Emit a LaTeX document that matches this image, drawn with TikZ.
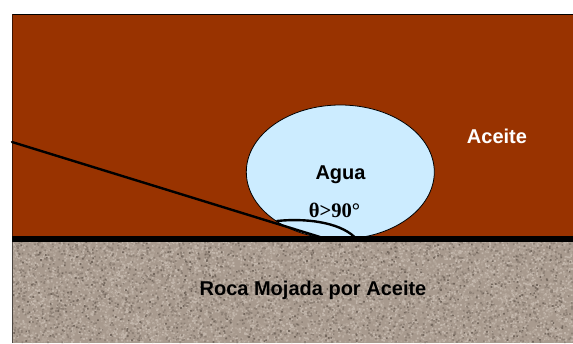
\documentclass[tikz,border=0pt]{standalone}
\usetikzlibrary{shapes.geometric}
\usepackage{fontspec}
\setmainfont{Liberation Sans}
\newfontfamily\serifbold{Liberation Serif}[BoldFont={Liberation Serif Bold}]
\definecolor{oilbrown}{HTML}{993300}
\definecolor{waterblue}{HTML}{CCECFF}
\definecolor{rockbase}{HTML}{A89A8E}
\definecolor{rocklight}{HTML}{C2B6AB}
\definecolor{rockmid}{HTML}{B3A69A}
\definecolor{rockdark}{HTML}{8E8176}
\definecolor{rockdeep}{HTML}{74685E}
\tikzset{
  label white/.style={text=white,font=\bfseries\fontsize{15}{17}\selectfont,inner sep=0pt},
  label black/.style={text=black,font=\bfseries\fontsize{15}{17}\selectfont,inner sep=0pt},
  contact/.style={draw=black,line width=1.8pt,line cap=round},
  droplet/.style={ellipse,draw=black,line width=0.6pt,fill=waterblue,inner sep=0pt,minimum width=141pt,minimum height=100.5pt},
}
\begin{document}
\begin{tikzpicture}[x=0.75pt,y=-0.75pt]
\useasboundingbox (0,0) rectangle (573,343);
% oil layer
\fill[oilbrown] (12,14) rectangle (573,237);
\draw[black,line width=0.75pt] (12,14) -- (573,14);
\draw[black!60!oilbrown,line width=0.75pt] (12,14) -- (12,237);
% rock layer with a speckled grain
\fill[rockbase] (12,241) rectangle (573,343);
\pgfmathsetseed{4217}
\foreach \shade/\count in {rocklight/4600,rockmid/3400,rockdark/2200,rockdeep/450}{
  \fill[\shade] \foreach \i in {1,...,\count}{
    \pgfextra{\pgfmathsetmacro{\gx}{12+559.5*rnd}\pgfmathsetmacro{\gy}{241+100.5*rnd}}
    (\gx,\gy) rectangle ++(1.7,1.7)
  };
}
\draw[black!55!rockbase,line width=0.75pt] (12,241) -- (12,343);
% water drop
\node[droplet] (drop) at (340.3,172) {};
% rock surface
\fill[black] (12,236) rectangle (573,242);
% contact line and angle arc
\coordinate (oilEnd) at (12,142);
\coordinate (dropContact) at (320,237);
\coordinate (arcStart) at (277,221);
\coordinate (arcEnd) at (354,236.5);
\draw[contact] (oilEnd) -- (dropContact);
\draw[contact] (arcStart) .. controls (305,218) and (338,222) .. (arcEnd);
% labels
\node[label white] (oil) at (497,136) {Aceite};
\node[label black] (water) at (340.5,175) {Agua};
\node[text=black,inner sep=0pt,font=\serifbold\bfseries\fontsize{15.5}{17}\selectfont] (angle) at (334.5,210.5) {θ>90°};
\node[label black] (rock) at (313,290) {Roca Mojada por Aceite};
\end{tikzpicture}
\end{document}
